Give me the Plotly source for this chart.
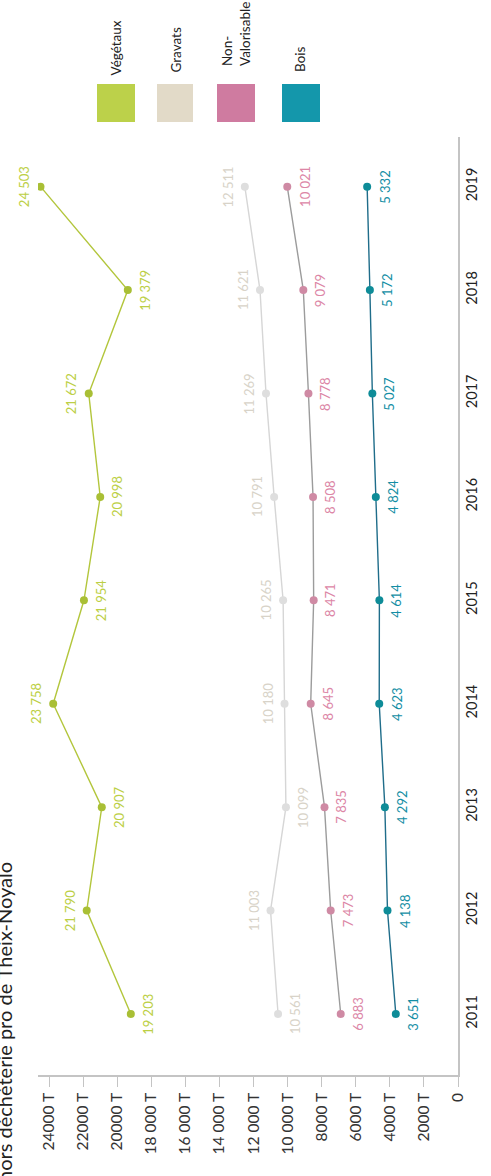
import plotly.graph_objects as go

# ---------------- data ----------------
years = [2011, 2012, 2013, 2014, 2015, 2016, 2017, 2018, 2019]
vegetaux = [19203, 21790, 20907, 23758, 21954, 20998, 21672, 19379, 24503]
gravats = [10561, 11003, 10099, 10180, 10265, 10791, 11269, 11621, 12511]
non_valorisable = [6883, 7473, 7835, 8645, 8471, 8508, 8778, 9079, 10021]
bois = [3651, 4138, 4292, 4623, 4614, 4824, 5027, 5172, 5332]

tick_vals = [0, 2000, 4000, 6000, 8000, 10000, 12000, 14000, 16000, 18000, 20000, 22000, 24000]
tick_text = ["0", "2000 T", "4000 T", "6000 T", "8000 T", "10 000 T", "12 000 T",
             "14 000 T", "16 000 T", "18 000 T", "20000 T", "22000 T", "24000 T"]

series_names = ["Végétaux", "Gravats", "Non-Valorisable", "Bois"]
series_values = [vegetaux, gravats, non_valorisable, bois]

# ---------------- style ----------------
W, H = 491, 1176
ML, MR, MT, MB = 38, 33, 137, 101
PW, PH = W - ML - MR, H - MT - MB

styles = {
    "Végétaux": dict(line="#b3c63c", marker="#a9bf35", label="#bccf45", box="#bcd14a"),
    "Gravats": dict(line="#d6d6d6", marker="#dedede", label="#d8d3c8", box="#e2dac8"),
    "Non-Valorisable": dict(line="#9c9c9c", marker="#cf8aa4", label="#dc86a6", box="#cf7ba0"),
    "Bois": dict(line="#1f6d8a", marker="#0e8c98", label="#138ea4", box="#1497ab"),
}
# +1: label right of point, -1: label left of point
label_side = {
    "Végétaux": [1, -1, 1, -1, 1, 1, -1, 1, -1],
    "Gravats": [1, -1, 1, -1, -1, -1, -1, -1, -1],
    "Non-Valorisable": [1] * 9,
    "Bois": [1] * 9,
}

FONT = "Lato"


def px(xp):
    return (xp - ML) / PW


def py(yp):
    return (H - MB - yp) / PH


def fmt(v):
    return f"{v:,}".replace(",", " ")


fig = go.Figure()
annotations = []

for name, vals in zip(series_names, series_values):
    st = styles[name]
    fig.add_trace(go.Scatter(
        x=vals, y=years, mode="lines+markers", name=name,
        line=dict(color=st["line"], width=1.4),
        marker=dict(color=st["marker"], size=8),
        showlegend=False, hoverinfo="skip",
    ))
    for v, yr, side in zip(vals, years, label_side[name]):
        annotations.append(dict(
            x=v, y=yr, xref="x", yref="y", text=fmt(v), showarrow=False,
            textangle=-90, xshift=17 * side,
            font=dict(family=FONT, size=13, color=st["label"]),
        ))

# legend boxes (pixel positions)
legend_boxes = [(97, 135), (157, 193), (217, 255), (282, 320)]
legend_text = ["Végétaux", "Gravats", "Non-<br>Valorisable", "Bois"]
legend_text_x = [115, 175, 236, 300]
legend_text_bottom = [78, 75, 68, 74]
shapes = []
for name, (x0, x1), txt, tx, tb in zip(series_names, legend_boxes, legend_text,
                                        legend_text_x, legend_text_bottom):
    shapes.append(dict(type="rect", xref="paper", yref="paper",
                       x0=px(x0), x1=px(x1), y0=py(122), y1=py(84),
                       fillcolor=styles[name]["box"], line=dict(width=0)))
    annotations.append(dict(
        x=px(tx), y=py(tb), xref="paper", yref="paper", text=txt,
        showarrow=False, textangle=-90, xanchor="center", yanchor="bottom",
        align="left",
        font=dict(family=FONT, size=13.5, color="#222222"),
    ))

# partially visible title on the left edge
annotations.append(dict(
    x=px(4), y=py(860), xref="paper", yref="paper",
    text="hors déchèterie pro de Theix-Noyalo", showarrow=False,
    textangle=-90, xanchor="center", yanchor="top",
    font=dict(family=FONT, size=20, color="#222222"),
))

fig.update_layout(
    width=W, height=H,
    margin=dict(l=ML, r=MR, t=MT, b=MB),
    paper_bgcolor="white", plot_bgcolor="white",
    showlegend=False,
    annotations=annotations,
    shapes=shapes,
    xaxis=dict(
        range=[24650, 0], tickvals=tick_vals, ticktext=tick_text,
        tickangle=-90, ticks="outside", ticklen=10, tickcolor="#c4c4c4",
        showline=True, linecolor="#c4c4c4", linewidth=1.5,
        showgrid=False, zeroline=False,
        tickfont=dict(family=FONT, size=15.5, color="#333333"),
    ),
    yaxis=dict(
        range=[2010.41, 2019.48], tickvals=years, ticktext=[str(y) for y in years],
        side="right", tickangle=-90, ticks="",
        showline=True, linecolor="#c4c4c4", linewidth=1.5,
        showgrid=False, zeroline=False,
        tickfont=dict(family=FONT, size=14.5, color="#222222"),
    ),
)

fig.write_html("out.html")
